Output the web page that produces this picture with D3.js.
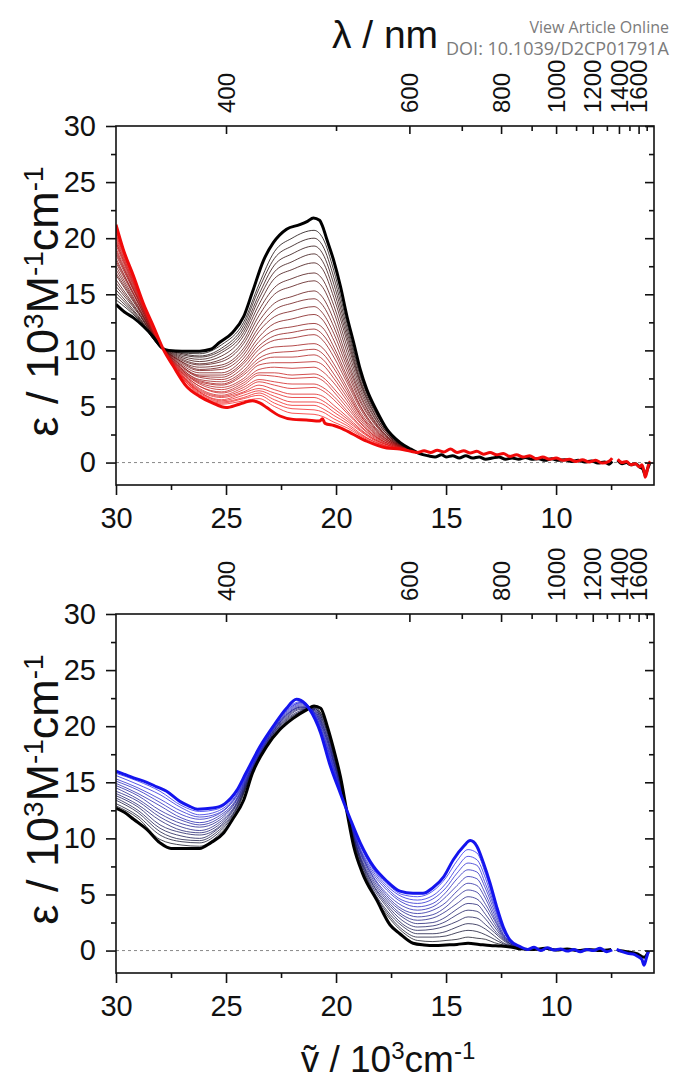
<!DOCTYPE html>
<meta charset="utf-8">
<style>
body { margin: 0; background: #fff; }
svg text { font-family: "Liberation Sans", Arial, sans-serif; fill: #111; }
.frame { fill: none; stroke: #111; stroke-width: 1.6px; }
.zero { stroke: #888; stroke-width: 1px; stroke-dasharray: 3,3; }
.wm { font-family: "Open Sans", sans-serif; fill: #7b7b7b; }
</style>
<body>
<script src="https://d3js.org/d3.v7.min.js"></script>
<script>

// tick values
const yMajor = [0, 5, 10, 15, 20, 25, 30];
const yMinor = [2.5, 7.5, 12.5, 17.5, 22.5, 27.5];
const xMajor = [30, 25, 20, 15, 10];
const xMinor = [27.5, 22.5, 17.5, 12.5, 7.5];
const nmMajor = [400, 600, 800, 1000, 1200, 1400, 1600];
const nmMinor = [500, 700, 900, 1100, 1300, 1500, 1700];

// top panel: first (black) and last (red) spectra, [wavenumber / 10^3 cm-1, eps / 10^3]
const topBlack = [[30,14.1],[29.6,13.4],[29.2,12.9],[28.76,12.15],[28.3,11.2],[27.9,10.2],[27.6,10.0],[27.0,9.93],[26.2,9.93],[25.7,10.1],[25.3,10.7],[24.7,11.6],[24.2,13.0],[23.8,15.2],[23.3,18.0],[22.85,19.6],[22.25,20.8],[21.65,21.2],[21.3,21.5],[21.03,21.8],[20.75,21.6],[20.6,21.0],[20.42,19.9],[20.12,18.1],[19.8,15.7],[19.5,13.0],[19.2,10.7],[18.9,8.3],[18.6,6.5],[18.15,4.6],[17.7,3.0],[17.1,1.8],[16.6,1.2],[16.2,0.8],[15.8,0.6],[15.5,0.5],[15.2,0.7],[15.0,0.5],[14.7,0.6],[14.4,0.4],[14.1,0.6],[13.8,0.4],[13.5,0.5],[13.2,0.3],[12.9,0.4],[12.6,0.5],[12.3,0.3],[12.0,0.4],[11.7,0.3],[11.4,0.45],[11.1,0.3],[10.8,0.35],[10.5,0.2],[10.2,0.35],[9.9,0.2],[9.6,0.25],[9.3,0.1],[9.0,0.2],[8.7,0.05],[8.4,0.15],[8.1,-0.05],[7.8,0.05],[7.6,-0.15],[7.45,0.1],[7.35,null],[7.2,0.2],[7.0,-0.1],[6.8,0.0],[6.6,-0.2],[6.4,-0.1],[6.2,-0.4],[6.05,-0.6],[5.95,-1.1],[5.85,-0.6],[5.75,-0.1]];
const topRed = [[30,21.2],[29.67,19.0],[29.2,16.6],[28.76,14.2],[28.3,12.15],[27.85,10.1],[27.4,8.6],[26.8,6.8],[26.2,5.9],[25.6,5.3],[25.0,4.9],[24.4,5.2],[23.8,5.5],[23.45,5.3],[23.15,4.9],[22.55,4.15],[21.95,3.85],[21.35,3.8],[20.75,3.7],[20.62,3.9],[20.5,3.5],[20.1,3.3],[19.8,3.1],[19.2,2.5],[18.6,1.9],[17.7,1.3],[17.1,1.2],[16.6,1.0],[16.3,0.9],[16.0,1.05],[15.7,0.9],[15.4,1.1],[15.1,0.95],[14.8,1.2],[14.5,0.9],[14.2,1.05],[13.9,0.85],[13.6,1.0],[13.3,0.75],[13.0,0.9],[12.7,0.7],[12.4,0.8],[12.1,0.55],[11.8,0.7],[11.5,0.5],[11.2,0.6],[10.9,0.35],[10.6,0.5],[10.3,0.3],[10.0,0.4],[9.7,0.2],[9.4,0.3],[9.1,0.1],[8.8,0.25],[8.5,0.05],[8.2,0.2],[7.9,-0.05],[7.6,0.1],[7.45,0.4],[7.35,null],[7.2,0.3],[7.0,0.0],[6.8,0.1],[6.6,-0.2],[6.4,-0.1],[6.2,-0.4],[6.1,-0.2],[6.0,-0.8],[5.95,-1.3],[5.88,-0.9],[5.8,-0.2],[5.72,0.1]];

// top panel: intermediate spectra, read at these wavenumbers
const topMidV = [30, 29, 27.9, 27.2, 26.2, 25.2, 24.2, 23.5, 22.8, 22, 21, 20.6, 20.1, 19.5, 18.9, 18.2, 17.4, 16.6];
// share of the black spectrum in each curve (sets the colour)
const topMidShare = [0.94, 0.90, 0.86, 0.82, 0.78, 0.73, 0.69, 0.64, 0.60, 0.56, 0.52, 0.48, 0.45, 0.42, 0.38, 0.35, 0.32, 0.29, 0.26, 0.23, 0.21, 0.18, 0.16, 0.13, 0.11, 0.09, 0.07, 0.05, 0.03];
const topMid = [
  [14.5,12.8,10.2,9.8,9.7,10.5,12.5,15.9,18.8,20.0,20.7,20.0,17.1,12.4,7.9,4.6,2.2,1.1],
  [14.8,12.9,10.2,9.8,9.5,10.2,12.2,15.5,18.2,19.3,20.0,19.3,16.5,12.0,7.7,4.5,2.2,1.1],
  [15.1,13.0,10.2,9.7,9.4,10.0,11.9,15.0,17.6,18.6,19.3,18.6,15.9,11.6,7.4,4.4,2.2,1.1],
  [15.4,13.1,10.2,9.6,9.2,9.8,11.6,14.6,17.0,17.9,18.6,17.9,15.3,11.2,7.2,4.2,2.1,1.1],
  [15.7,13.3,10.2,9.5,9.0,9.5,11.3,14.1,16.4,17.2,17.8,17.2,14.7,10.8,7.0,4.1,2.1,1.1],
  [16.0,13.4,10.2,9.4,8.8,9.2,10.9,13.6,15.6,16.4,16.9,16.3,14.0,10.3,6.7,3.9,2.0,1.1],
  [16.3,13.5,10.2,9.3,8.7,9.0,10.6,13.1,15.0,15.7,16.2,15.6,13.4,9.8,6.4,3.8,2.0,1.1],
  [16.7,13.7,10.2,9.2,8.5,8.7,10.2,12.6,14.2,14.8,15.3,14.7,12.7,9.3,6.1,3.6,1.9,1.1],
  [16.9,13.8,10.2,9.2,8.3,8.5,9.9,12.1,13.6,14.2,14.6,14.0,12.1,8.9,5.9,3.5,1.9,1.1],
  [17.2,13.9,10.2,9.1,8.2,8.3,9.6,11.7,13.0,13.5,13.9,13.3,11.5,8.5,5.6,3.4,1.8,1.1],
  [17.5,14.0,10.2,9.0,8.0,8.0,9.3,11.2,12.4,12.8,13.2,12.7,10.9,8.1,5.4,3.3,1.8,1.1],
  [17.8,14.2,10.2,8.9,7.8,7.8,9.0,10.8,11.8,12.1,12.4,12.0,10.3,7.7,5.1,3.1,1.8,1.1],
  [18.0,14.3,10.2,8.9,7.7,7.6,8.8,10.4,11.3,11.6,11.9,11.4,9.9,7.4,5.0,3.0,1.7,1.1],
  [18.2,14.3,10.2,8.8,7.6,7.4,8.5,10.1,10.9,11.1,11.4,10.9,9.4,7.1,4.8,2.9,1.7,1.1],
  [18.5,14.5,10.2,8.7,7.4,7.2,8.2,9.7,10.3,10.4,10.6,10.2,8.8,6.7,4.5,2.8,1.7,1.1],
  [18.7,14.6,10.2,8.7,7.3,7.0,8.0,9.3,9.8,9.9,10.1,9.7,8.4,6.4,4.3,2.7,1.6,1.1],
  [18.9,14.6,10.2,8.6,7.2,6.9,7.8,9.0,9.4,9.4,9.6,9.2,7.9,6.1,4.2,2.6,1.6,1.1],
  [19.1,14.7,10.2,8.6,7.1,6.7,7.5,8.7,8.9,8.9,9.0,8.7,7.5,5.8,4.0,2.5,1.6,1.1],
  [19.4,14.8,10.2,8.5,7.0,6.5,7.3,8.3,8.5,8.4,8.5,8.1,7.1,5.5,3.8,2.4,1.5,1.1],
  [19.6,14.9,10.2,8.5,6.8,6.3,7.1,8.0,8.0,7.8,7.9,7.6,6.6,5.2,3.6,2.3,1.5,1.1],
  [19.7,15.0,10.2,8.4,6.8,6.2,6.9,7.8,7.7,7.5,7.6,7.3,6.3,4.9,3.5,2.3,1.5,1.1],
  [19.9,15.1,10.2,8.4,6.6,6.0,6.7,7.4,7.2,7.0,7.0,6.7,5.9,4.6,3.3,2.2,1.4,1.1],
  [20.1,15.1,10.2,8.3,6.5,5.9,6.5,7.2,6.9,6.6,6.7,6.4,5.6,4.4,3.2,2.1,1.4,1.1],
  [20.3,15.2,10.2,8.3,6.4,5.8,6.3,6.9,6.5,6.1,6.1,5.9,5.1,4.1,3.0,2.0,1.4,1.1],
  [20.4,15.3,10.2,8.2,6.3,5.6,6.2,6.6,6.2,5.8,5.8,5.5,4.8,3.9,2.9,2.0,1.4,1.1],
  [20.6,15.3,10.2,8.2,6.3,5.5,6.0,6.4,5.9,5.4,5.4,5.2,4.5,3.7,2.8,1.9,1.3,1.1],
  [20.7,15.4,10.2,8.1,6.2,5.4,5.8,6.2,5.6,5.1,5.1,4.8,4.2,3.5,2.6,1.8,1.3,1.1],
  [20.8,15.5,10.2,8.1,6.1,5.3,5.7,6.0,5.3,4.8,4.7,4.5,3.9,3.3,2.5,1.8,1.3,1.1],
  [21.0,15.5,10.2,8.1,6.0,5.2,5.5,5.7,5.0,4.4,4.3,4.1,3.6,3.1,2.4,1.7,1.3,1.1]
];

// bottom panel: first (black) and last (blue) spectra
const botBlack = [[30,12.7],[29.6,12.3],[29.2,11.7],[28.6,10.8],[28.0,9.6],[27.5,9.1],[26.9,9.1],[26.2,9.1],[25.7,9.6],[25.1,10.5],[24.7,11.7],[24.2,13.4],[23.8,15.8],[23.15,18.2],[22.55,19.7],[21.95,20.7],[21.3,21.5],[21.0,21.8],[20.7,21.6],[20.4,20.0],[20.1,17.9],[19.8,15.5],[19.5,12.3],[19.2,9.3],[18.8,6.9],[18.15,4.5],[17.55,2.3],[17.1,1.5],[16.5,0.65],[16.0,0.5],[15.5,0.45],[15.0,0.5],[14.5,0.55],[14.0,0.65],[13.5,0.55],[13.0,0.45],[12.5,0.4],[12.0,0.3],[11.6,0.15],[11.0,0.1],[10.5,0.2],[10.0,0.05],[9.5,0.15],[9.0,0.0],[8.5,0.1],[8.0,0.0],[7.5,0.1],[7.35,null],[7.2,0.0],[6.8,-0.1],[6.3,-0.3],[6.0,-0.6],[5.8,-0.1]];
const botBlue = [[30,16.0],[29.6,15.7],[29.2,15.4],[28.6,15.0],[28.15,14.6],[27.7,14.2],[27.1,13.3],[26.7,12.9],[26.3,12.6],[25.6,12.7],[25.05,13.1],[24.5,14.3],[24.1,15.8],[23.45,18.2],[22.85,20.0],[22.25,21.6],[21.8,22.4],[21.6,22.3],[21.2,21.5],[20.7,19.4],[20.3,16.7],[19.8,14.0],[19.35,11.7],[18.9,9.6],[18.3,7.5],[17.7,6.2],[17.1,5.3],[16.5,5.1],[16.05,5.1],[15.6,5.6],[15.1,6.6],[14.67,8.1],[14.2,9.3],[13.9,9.8],[13.6,9.3],[13.3,7.8],[13.0,6.0],[12.7,3.9],[12.4,2.1],[12.1,0.95],[11.64,0.35],[11.3,0.1],[11.0,0.3],[10.7,0.0],[10.4,0.25],[10.1,0.05],[9.8,0.15],[9.5,-0.05],[9.2,0.1],[8.9,-0.1],[8.6,0.1],[8.3,0.0],[8.0,0.2],[7.7,-0.1],[7.45,0.05],[7.35,null],[7.25,0.1],[7.0,-0.1],[6.75,-0.25],[6.5,-0.3],[6.3,-0.5],[6.1,-0.8],[6.0,-1.3],[5.9,-0.7],[5.8,0.0]];

// bottom panel: intermediate spectra
const botMidV = [30, 29, 28, 27, 26.2, 25.4, 24.6, 23.8, 23, 22.2, 21.6, 21.0, 20.5, 20.0, 19.5, 19.0, 18.4, 17.7, 17.0, 16.3, 15.6, 15.0, 14.5, 14.0, 13.6, 13.2, 12.8, 12.4, 12.0, 11.6];
const botMidShare = [0.067, 0.133, 0.2, 0.267, 0.333, 0.4, 0.467, 0.533, 0.6, 0.667, 0.733, 0.8, 0.867, 0.933];
const botMid = [
  [12.9,11.8,9.9,9.4,9.3,10.2,12.1,15.9,18.7,20.4,21.2,21.7,20.4,16.9,12.3,8.3,5.4,3.2,1.7,0.9,0.8,0.9,1.0,1.2,1.1,1.0,0.7,0.5,0.3,0.2],
  [13.1,12.0,10.3,9.7,9.6,10.4,12.3,15.9,18.7,20.5,21.3,21.7,20.3,16.8,12.3,8.4,5.6,3.4,1.9,1.2,1.2,1.3,1.6,1.8,1.7,1.4,1.0,0.6,0.4,0.2],
  [13.4,12.3,10.6,9.9,9.8,10.6,12.4,16.0,18.8,20.6,21.3,21.6,20.1,16.6,12.3,8.6,5.7,3.6,2.2,1.5,1.5,1.7,2.1,2.4,2.3,1.9,1.3,0.7,0.4,0.2],
  [13.6,12.5,10.9,10.2,10.0,10.8,12.5,16.1,18.9,20.7,21.4,21.6,20.0,16.5,12.4,8.7,5.9,3.9,2.4,1.8,1.9,2.2,2.6,3.0,2.9,2.3,1.6,0.9,0.4,0.2],
  [13.8,12.8,11.2,10.5,10.3,10.9,12.7,16.1,18.9,20.8,21.5,21.5,19.8,16.4,12.4,8.8,6.1,4.1,2.7,2.1,2.2,2.6,3.2,3.6,3.5,2.8,1.8,1.0,0.5,0.25],
  [14.0,13.0,11.6,10.7,10.5,11.1,12.8,16.2,19.0,20.9,21.6,21.5,19.6,16.2,12.4,8.9,6.2,4.3,3.0,2.4,2.5,3.0,3.7,4.2,4.1,3.2,2.1,1.1,0.5,0.25],
  [14.2,13.3,11.9,11.0,10.7,11.3,12.9,16.3,19.1,21.0,21.7,21.4,19.5,16.1,12.4,9.0,6.4,4.5,3.2,2.7,2.9,3.5,4.2,4.8,4.6,3.7,2.4,1.2,0.5,0.27],
  [14.5,13.5,12.2,11.3,11.0,11.5,13.1,16.3,19.1,21.1,21.7,21.4,19.3,16.0,12.4,9.2,6.6,4.7,3.5,3.0,3.2,3.9,4.8,5.4,5.2,4.1,2.7,1.3,0.6,0.28],
  [14.7,13.8,12.5,11.6,11.2,11.7,13.2,16.4,19.2,21.1,21.8,21.3,19.2,15.9,12.4,9.3,6.8,4.9,3.7,3.3,3.6,4.3,5.3,6.0,5.8,4.6,2.9,1.4,0.6,0.3],
  [14.9,14.0,12.9,11.8,11.4,11.9,13.3,16.5,19.3,21.2,21.9,21.3,19.0,15.7,12.4,9.4,6.9,5.1,4.0,3.6,3.9,4.8,5.8,6.6,6.4,5.0,3.2,1.5,0.6,0.3],
  [15.1,14.3,13.2,12.1,11.7,12.1,13.5,16.5,19.3,21.3,22.0,21.2,18.8,15.6,12.5,9.5,7.1,5.4,4.3,3.9,4.2,5.2,6.4,7.2,7.0,5.5,3.5,1.7,0.7,0.3],
  [15.3,14.5,13.5,12.4,11.9,12.2,13.6,16.6,19.4,21.4,22.1,21.2,18.7,15.5,12.5,9.6,7.3,5.6,4.5,4.2,4.6,5.6,6.9,7.8,7.6,5.9,3.8,1.8,0.7,0.3],
  [15.6,14.8,13.9,12.7,12.1,12.4,13.7,16.7,19.5,21.5,22.1,21.1,18.5,15.4,12.5,9.8,7.5,5.8,4.8,4.5,4.9,6.0,7.4,8.4,8.1,6.4,4.0,1.9,0.7,0.33],
  [15.8,15.1,14.2,12.9,12.4,12.6,13.9,16.7,19.5,21.6,22.2,21.1,18.4,15.2,12.5,9.9,7.6,6.0,5.0,4.8,5.3,6.5,8.0,9.0,8.7,6.8,4.3,2.0,0.8,0.34]
];

const width = 673, height = 1082;
const left = 116, right = 654;

const svg = d3.select("body").append("svg")
    .attr("width", width)
    .attr("height", height);

// wavenumber axis is shared by both panels
const x = d3.scaleLinear().domain([30, 5.55]).range([left, right]);

function drawPanel(top, bottom, id, finalFirst, finalLast, lastColor, midV, mid, midShare, midColor) {
    const y = d3.scaleLinear().domain([-2, 30]).range([bottom, top]);
    const g = svg.append("g");

    g.append("clipPath").attr("id", id)
        .append("rect")
        .attr("x", left).attr("y", top)
        .attr("width", right - left).attr("height", bottom - top);

    // dashed zero line
    g.append("line").attr("class", "zero")
        .attr("x1", left).attr("x2", right)
        .attr("y1", y(0)).attr("y2", y(0));

    const line = d3.line()
        .defined(d => d[1] != null)
        .x(d => x(d[0]))
        .y(d => y(d[1]))
        .curve(d3.curveMonotoneX);

    const plot = g.append("g").attr("clip-path", "url(#" + id + ")");

    // intermediate spectra
    mid.forEach(function (vals, i) {
        const pts = midV.map((v, j) => [v, vals[j]]);
        plot.append("path")
            .datum(pts)
            .attr("fill", "none")
            .attr("stroke", midColor(midShare[i]))
            .attr("stroke-opacity", 0.85)
            .attr("stroke-width", 0.9)
            .attr("d", line);
    });

    plot.append("path").datum(finalFirst)
        .attr("fill", "none").attr("stroke", "#000")
        .attr("stroke-width", 3).attr("stroke-linejoin", "round")
        .attr("d", line);
    plot.append("path").datum(finalLast)
        .attr("fill", "none").attr("stroke", lastColor)
        .attr("stroke-width", 3).attr("stroke-linejoin", "round")
        .attr("d", line);

    // frame
    g.append("rect").attr("class", "frame")
        .attr("x", left).attr("y", top)
        .attr("width", right - left).attr("height", bottom - top);

    function styleAxis(sel) {
        sel.select(".domain").remove();
        sel.selectAll("line").attr("stroke", "#111").attr("stroke-width", 1.6);
        sel.attr("font-family", "'Liberation Sans', Arial, sans-serif").attr("font-size", 29);
        sel.selectAll("text").attr("fill", "#111");
    }

    // left axis, ticks outward
    g.append("g").attr("transform", "translate(" + left + ",0)")
        .call(d3.axisLeft(y).tickValues(yMajor).tickSize(10).tickPadding(10).tickFormat(d3.format("d")))
        .call(styleAxis);
    g.append("g").attr("transform", "translate(" + left + ",0)")
        .call(d3.axisLeft(y).tickValues(yMinor).tickSize(5).tickFormat(""))
        .call(styleAxis);

    // right axis, ticks inward
    g.append("g").attr("transform", "translate(" + right + ",0)")
        .call(d3.axisLeft(y).tickValues(yMajor).tickSize(9).tickFormat(""))
        .call(styleAxis);
    g.append("g").attr("transform", "translate(" + right + ",0)")
        .call(d3.axisLeft(y).tickValues(yMinor).tickSize(5).tickFormat(""))
        .call(styleAxis);

    // bottom axis, ticks outward
    g.append("g").attr("transform", "translate(0," + bottom + ")")
        .call(d3.axisBottom(x).tickValues(xMajor).tickSize(10).tickPadding(12).tickFormat(d3.format("d")))
        .call(styleAxis);
    g.append("g").attr("transform", "translate(0," + bottom + ")")
        .call(d3.axisBottom(x).tickValues(xMinor).tickSize(5).tickFormat(""))
        .call(styleAxis);

    // top wavelength axis, ticks inward
    const nm = d => 10000 / d;
    g.append("g").attr("transform", "translate(0," + top + ")")
        .call(d3.axisBottom(x).tickValues(nmMajor.map(nm)).tickSize(8).tickFormat(""))
        .call(styleAxis);
    g.append("g").attr("transform", "translate(0," + top + ")")
        .call(d3.axisBottom(x).tickValues(nmMinor.map(nm)).tickSize(5).tickFormat(""))
        .call(styleAxis);
    g.selectAll(".nmlab").data(nmMajor).enter().append("text")
        .attr("class", "nmlab")
        .attr("transform", d => "translate(" + x(nm(d)) + "," + (top - 13) + ") rotate(-90)")
        .attr("dy", "0.36em")
        .attr("text-anchor", "start")
        .attr("font-size", 24)
        .text(d => d);

    // y title
    const yt = g.append("text")
        .attr("transform", "translate(58," + ((top + bottom) / 2 - 4) + ") rotate(-90)")
        .attr("text-anchor", "middle")
        .attr("font-size", 45);
    yt.append("tspan").text("ε / 10");
    yt.append("tspan").attr("baseline-shift", "super").attr("font-size", "0.62em").text("3");
    yt.append("tspan").text("M");
    yt.append("tspan").attr("baseline-shift", "super").attr("font-size", "0.62em").text("-1");
    yt.append("tspan").text("cm");
    yt.append("tspan").attr("baseline-shift", "super").attr("font-size", "0.62em").text("-1");
}

drawPanel(126, 485, "clipTop", topBlack, topRed, "#f00a0a", topMidV, topMid, topMidShare,
    d3.interpolateRgb("#ff2020", "#000000"));
drawPanel(614, 973, "clipBot", botBlack, botBlue, "#1414ee", botMidV, botMid, botMidShare,
    d3.interpolateRgb("#101010", "#2a2aff"));

// top title
svg.append("text")
    .attr("x", 385).attr("y", 48)
    .attr("text-anchor", "middle")
    .attr("font-size", 39)
    .text("λ / nm");

// bottom title
const xt = svg.append("text")
    .attr("x", 388).attr("y", 1072)
    .attr("text-anchor", "middle")
    .attr("font-size", 37);
xt.append("tspan").text("ṽ / 10");
xt.append("tspan").attr("baseline-shift", "super").attr("font-size", "0.65em").text("3");
xt.append("tspan").text("cm");
xt.append("tspan").attr("baseline-shift", "super").attr("font-size", "0.65em").text("-1");

// journal watermark
svg.append("text").attr("class", "wm")
    .attr("x", 669).attr("y", 33)
    .attr("text-anchor", "end")
    .attr("font-size", 16)
    .text("View Article Online");
svg.append("text").attr("class", "wm")
    .attr("x", 669).attr("y", 55)
    .attr("text-anchor", "end")
    .attr("font-size", 18)
    .text("DOI: 10.1039/D2CP01791A");

</script>
</body>
